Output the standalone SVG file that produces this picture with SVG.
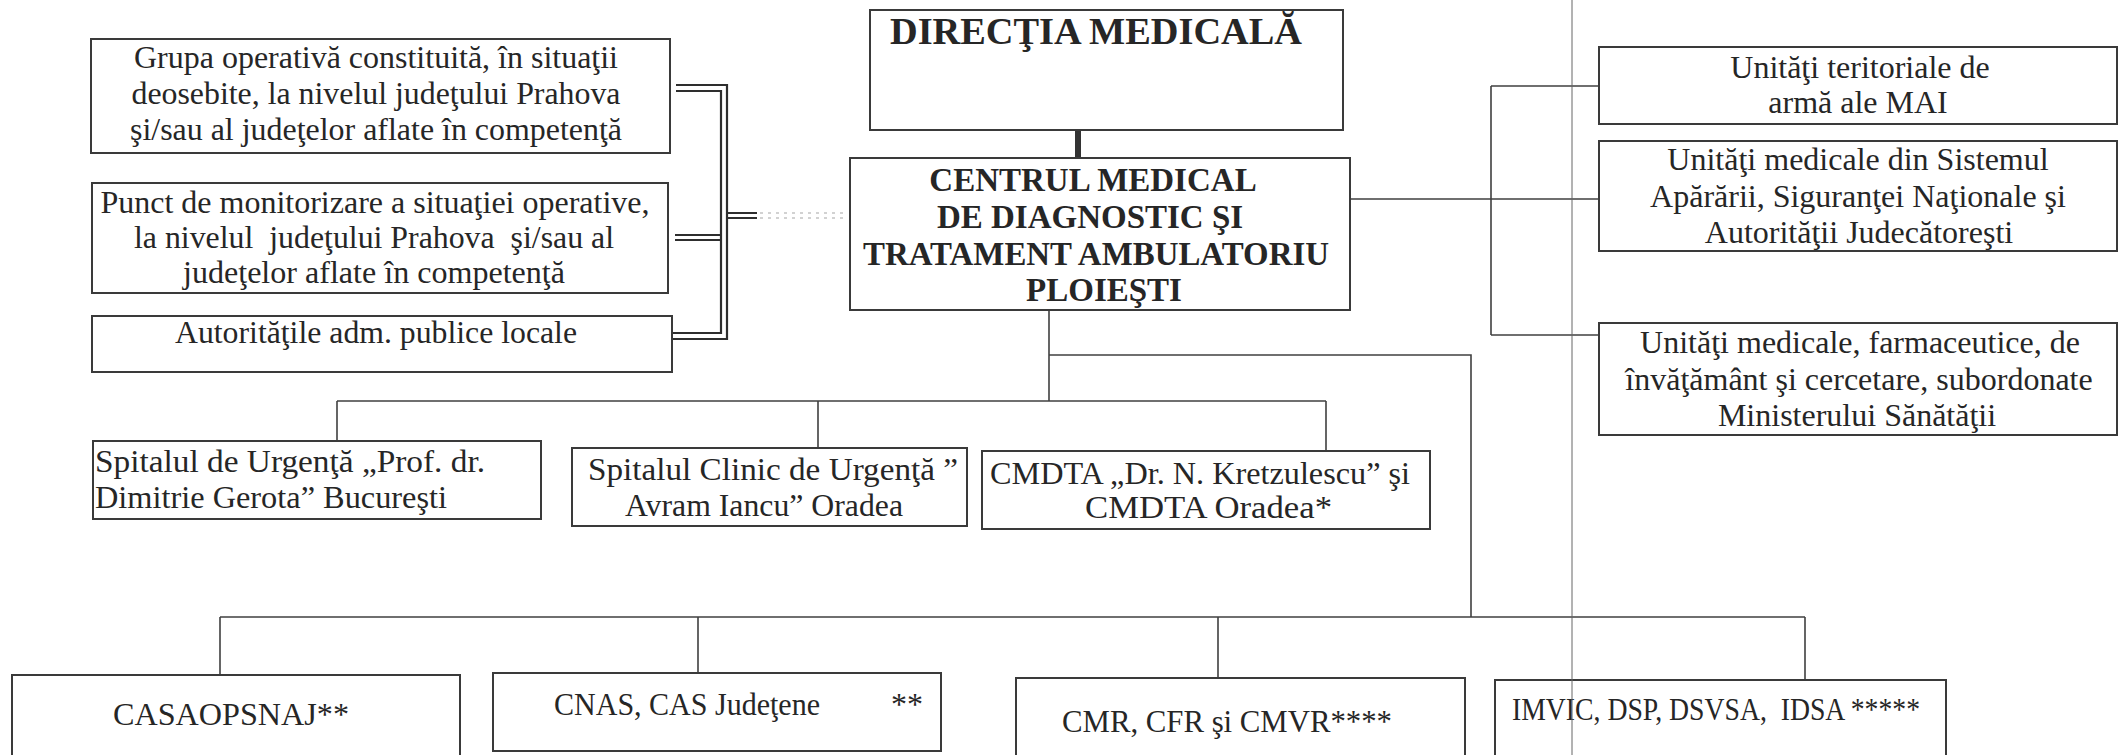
<svg xmlns="http://www.w3.org/2000/svg" width="2119" height="755" viewBox="0 0 2119 755">
<style>
.box{fill:#fff;stroke:#3a3a3a;stroke-width:2}
.t{font-family:"Liberation Serif","Times New Roman",serif;font-size:32px;fill:#262626}
.b{font-family:"Liberation Serif","Times New Roman",serif;font-weight:bold;fill:#262626}
.c{text-anchor:middle}
.ln{fill:none;stroke:#404040;stroke-width:1.6}
.dl{fill:none;stroke:#2e2e2e;stroke-width:2.2}
</style>
<rect width="2119" height="755" fill="#fff"/>
<g id="connectors">
<path class="dl" d="M676,85 H727 V339 H672"/>
<path class="dl" d="M676,91 H721 V333 H672"/>
<path class="dl" d="M675,235 H721 M675,240 H721"/>
<path class="dl" d="M727,213 H757 M727,218 H757"/>
<path d="M760,213 H847 M760,218 H847" fill="none" stroke="#c4c4c4" stroke-width="1.6" stroke-dasharray="3 5"/>
<rect x="1075" y="130" width="6" height="29" fill="#333"/>
<path class="ln" d="M1350,199 H1599 M1491,86 V335 M1491,86 H1599 M1491,335 H1599"/>
<path class="ln" d="M1049,310 V401 M1049,355 H1471 V617"/>
<path class="ln" d="M337,401 H1326 M337,401 V441 M818,401 V448 M1326,401 V451"/>
<path class="ln" d="M220,617 H1805 M220,617 V675 M698,617 V673 M1218,617 V678 M1805,617 V680"/>
</g>
<g id="grupa">
<rect class="box" x="91" y="39" width="579" height="114"/>
<text class="t c" x="376" y="68" textLength="484" lengthAdjust="spacingAndGlyphs">Grupa operativă constituită, în situaţii</text>
<text class="t c" x="376" y="104" textLength="489" lengthAdjust="spacingAndGlyphs">deosebite, la nivelul judeţului Prahova</text>
<text class="t c" x="376" y="140" textLength="492" lengthAdjust="spacingAndGlyphs">şi/sau al judeţelor aflate în competenţă</text>
</g>
<g id="punct">
<rect class="box" x="92" y="183" width="576" height="110"/>
<text class="t c" x="375" y="213" textLength="549" lengthAdjust="spacingAndGlyphs">Punct de monitorizare a situaţiei operative,</text>
<text class="t c" x="374" y="248" textLength="480" lengthAdjust="spacingAndGlyphs" xml:space="preserve">la nivelul  judeţului Prahova  şi/sau al</text>
<text class="t c" x="374" y="283" textLength="382" lengthAdjust="spacingAndGlyphs">judeţelor aflate în competenţă</text>
</g>
<g id="autoritati">
<rect class="box" x="92" y="316" width="580" height="56"/>
<text class="t c" x="376" y="343" textLength="402" lengthAdjust="spacingAndGlyphs">Autorităţile adm. publice locale</text>
</g>
<g id="directia">
<rect class="box" x="870" y="10" width="473" height="120"/>
<text class="b c" x="1096" y="44" font-size="38" textLength="412" lengthAdjust="spacingAndGlyphs">DIRECŢIA MEDICALĂ</text>
</g>
<g id="centrul">
<rect class="box" x="850" y="158" width="500" height="152"/>
<text class="b c" x="1093" y="191" font-size="33">CENTRUL MEDICAL</text>
<text class="b c" x="1090" y="228" font-size="33">DE DIAGNOSTIC ŞI</text>
<text class="b c" x="1096" y="265" font-size="33" textLength="466" lengthAdjust="spacingAndGlyphs">TRATAMENT AMBULATORIU</text>
<text class="b c" x="1104" y="301" font-size="33">PLOIEŞTI</text>
</g>
<g id="unitati-mai">
<rect class="box" x="1599" y="47" width="518" height="77"/>
<text class="t c" x="1860" y="78">Unităţi teritoriale de</text>
<text class="t c" x="1858" y="113">armă ale MAI</text>
</g>
<g id="unitati-aparare">
<rect class="box" x="1599" y="141" width="518" height="110"/>
<text class="t c" x="1858" y="170">Unităţi medicale din Sistemul</text>
<text class="t c" x="1858" y="207">Apărării, Siguranţei Naţionale şi</text>
<text class="t c" x="1859" y="243">Autorităţii Judecătoreşti</text>
</g>
<g id="unitati-ms">
<rect class="box" x="1599" y="323" width="518" height="112"/>
<text class="t c" x="1860" y="353">Unităţi medicale, farmaceutice, de</text>
<text class="t c" x="1859" y="390">învăţământ şi cercetare, subordonate</text>
<text class="t c" x="1857" y="426">Ministerului Sănătăţii</text>
</g>
<g id="gerota">
<rect class="box" x="93" y="441" width="448" height="78"/>
<text class="t" x="95" y="472" textLength="390" lengthAdjust="spacingAndGlyphs">Spitalul de Urgenţă „Prof. dr.</text>
<text class="t" x="95" y="508" textLength="352" lengthAdjust="spacingAndGlyphs">Dimitrie Gerota” Bucureşti</text>
</g>
<g id="iancu">
<rect class="box" x="572" y="448" width="395" height="78"/>
<text class="t" x="588" y="480" textLength="370" lengthAdjust="spacingAndGlyphs">Spitalul Clinic de Urgenţă ”</text>
<text class="t" x="625" y="516" textLength="278" lengthAdjust="spacingAndGlyphs">Avram Iancu” Oradea</text>
</g>
<g id="cmdta">
<rect class="box" x="982" y="451" width="448" height="78"/>
<text class="t" x="990" y="484" textLength="420" lengthAdjust="spacingAndGlyphs">CMDTA „Dr. N. Kretzulescu” şi</text>
<text class="t" x="1085" y="518" textLength="247" lengthAdjust="spacingAndGlyphs">CMDTA Oradea*</text>
</g>
<g id="casaopsnaj">
<rect class="box" x="12" y="675" width="448" height="84"/>
<text class="t" x="113" y="725" textLength="236" lengthAdjust="spacingAndGlyphs">CASAOPSNAJ**</text>
</g>
<g id="cnas">
<rect class="box" x="493" y="673" width="448" height="78"/>
<text class="t" x="554" y="715"><tspan textLength="266" lengthAdjust="spacingAndGlyphs">CNAS, CAS Judeţene</tspan><tspan x="891">**</tspan></text>
</g>
<g id="cmr">
<rect class="box" x="1016" y="678" width="449" height="81"/>
<text class="t" x="1062" y="732" textLength="330" lengthAdjust="spacingAndGlyphs">CMR, CFR şi CMVR****</text>
</g>
<g id="imvic">
<rect class="box" x="1495" y="680" width="451" height="79"/>
<text class="t" x="1512" y="720" textLength="408" lengthAdjust="spacingAndGlyphs" xml:space="preserve">IMVIC, DSP, DSVSA,  IDSA *****</text>
</g>
<path d="M1572,0 V755" stroke="#666" stroke-width="1" fill="none"/>
</svg>
